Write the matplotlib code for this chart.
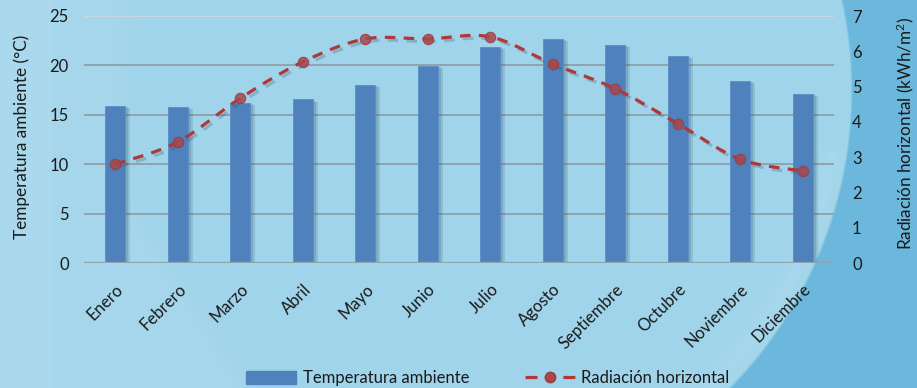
import numpy as np
import matplotlib
matplotlib.use("Agg")
import matplotlib.pyplot as plt
from matplotlib.patches import Patch
from matplotlib.lines import Line2D
import matplotlib.patheffects as pe

plt.rcParams['font.family'] = ['Lato', 'DejaVu Sans']
plt.rcParams['mathtext.fontset'] = 'custom'
plt.rcParams['mathtext.rm'] = 'Lato'
plt.rcParams['mathtext.it'] = 'Lato'

# Monthly climate data
months = ["Enero", "Febrero", "Marzo", "Abril", "Mayo", "Junio", "Julio",
          "Agosto", "Septiembre", "Octubre", "Noviembre", "Diciembre"]
temperatura = [15.9, 15.8, 16.2, 16.55, 18.05, 19.95, 21.9, 22.7, 22.1, 21.0, 18.45, 17.1]
radiacion = [2.80, 3.43, 4.67, 5.70, 6.35, 6.35, 6.41, 5.64, 4.94, 3.95, 2.94, 2.61]
temp_ticks = [0, 5, 10, 15, 20, 25]
rad_ticks = [0, 1, 2, 3, 4, 5, 6, 7]

W, H = 917, 388
fig = plt.figure(figsize=(W / 100, H / 100), dpi=100)

# Background: light blue panel, lighter wedge on the left, darker arc on the right
yy, xx = np.mgrid[0:H, 0:W].astype(float)
base = np.array([160, 212, 234], float) / 255
img = np.ones((H, W, 3)) * base
light = np.array([168, 216, 236]) / 255
edge_x = np.where(yy < 200, 140.0, 140.0 + (yy - 200) * 0.65)
wedge = np.clip((edge_x - xx) / 25, 0, 1)[..., None] * 0.7
img = img * (1 - wedge) + light * wedge
left_strip = np.clip((55 - xx) / 6, 0, 1)[..., None] * 0.5
img = img * (1 - left_strip) + np.array([176, 219, 237]) / 255 * left_strip
# darker area outside the large arc (right side only)
r = np.sqrt((xx - 427) ** 2 + (yy - 90) ** 2)
outer = (np.clip((r - 423) / 2.5, 0, 1) * (xx > 550))[..., None]
rim = (np.exp(-((r - 410) / 14) ** 2) * (xx > 600) * (yy > 150))[..., None] * 0.35
img = img * (1 - rim) + np.array([178, 222, 240]) / 255 * rim
dark = np.array([108, 184, 221]) / 255 + (0.02 * (1 - xx / W))[..., None]
img = img * (1 - outer) + dark * outer
bg = fig.add_axes([0, 0, 1, 1], zorder=-10)
bg.imshow(np.clip(img, 0, 1), aspect='auto', extent=[0, 1, 0, 1], origin='upper')
bg.axis('off')

left, right = 84 / W, 834 / W
bottom, top = 1 - 263 / H, 1 - 16 / H
ax = fig.add_axes([left, bottom, right - left, top - bottom])
ax.patch.set_alpha(0)
ax2 = ax.twinx()
ax2.patch.set_alpha(0)

x = np.arange(len(months))
bar_color = '#4f81bd'
bars = ax.bar(x, temperatura, width=0.32, color=bar_color, edgecolor='#5b8cc6',
              linewidth=0.6, zorder=3)
for b in bars:
    b.set_path_effects([pe.SimplePatchShadow(offset=(3.5, -1.5), shadow_rgbFace='#3a5a70', alpha=0.18),
                        pe.SimplePatchShadow(offset=(2, -1), shadow_rgbFace='#3a5a70', alpha=0.2),
                        pe.Normal()])

ax.set_xlim(-0.5, len(months) - 0.5)
ax.set_ylim(0, 25)
ax.set_yticks(temp_ticks)
ax2.set_ylim(0, 7)
ax2.set_yticks(rad_ticks)

# grid lines
for t in temp_ticks[1:]:
    c = '#c9d9e1' if t == 25 else '#8fa3ad'
    ax.axhline(t, color=c, lw=1.4, zorder=1)
for s in ax.spines.values():
    s.set_visible(False)
for s in ax2.spines.values():
    s.set_visible(False)
ax.axhline(0, color='#8fa3ad', lw=1.6, zorder=4)

# smoothed curve through radiation values (Catmull-Rom as cubic Bezier)
def smooth(xs, ys, n=30):
    P = np.column_stack([xs, ys]).astype(float)
    out = []
    for i in range(len(P) - 1):
        p0 = P[i - 1] if i > 0 else P[i]
        p1, p2 = P[i], P[i + 1]
        p3 = P[i + 2] if i + 2 < len(P) else P[i + 1]
        c1 = p1 + (p2 - p0) / 6
        c2 = p2 - (p3 - p1) / 6
        t = np.linspace(0, 1, n)[:, None]
        seg = ((1 - t) ** 3) * p1 + 3 * ((1 - t) ** 2) * t * c1 + 3 * (1 - t) * t ** 2 * c2 + t ** 3 * p2
        out.append(seg if i == 0 else seg[1:])
    return np.vstack(out)

curve = smooth(x, radiacion)
line_color = '#b03838'
ax2.plot(curve[:, 0], curve[:, 1], color=line_color, lw=2.3, dashes=(3.3, 2.6),
         zorder=5, path_effects=[pe.SimpleLineShadow(offset=(2, -2), shadow_color='#2f4f66', alpha=0.25),
                                 pe.Normal()])
ax2.plot(x, radiacion, linestyle='none', marker='o', ms=7.5, mfc='#a9474b', mec='#9a3c40',
         mew=0.8, alpha=0.85, zorder=6)

text_color = '#1a1a1a'
ax.tick_params(axis='y', length=0, pad=11, labelsize=12, labelcolor=text_color)
ax2.tick_params(axis='y', length=0, pad=13, labelsize=12, labelcolor=text_color)
ax.set_xticks(x)
ax.set_xticklabels(months, rotation=45, ha='right', rotation_mode='anchor',
                   fontsize=12, color=text_color)
ax.tick_params(axis='x', length=0, pad=13)

fig.text(22 / W, 1 - 136.5 / H, 'Temperatura ambiente (°C)', rotation=90,
         ha='center', va='center', fontsize=12.3, color=text_color)
fig.text(905 / W, 1 - 133.5 / H, 'Radiación horizontal (kWh/m$^{2}$)', rotation=90,
         ha='center', va='center', fontsize=12.3, color=text_color)

handles = [Patch(facecolor=bar_color, edgecolor=bar_color),
           Line2D([0], [0], color=line_color, lw=2.3, dashes=(3.75, 8.1), marker='o',
                  ms=7.5, mfc='#a9474b', mec='#9a3c40')]
fig.legend(handles, ['Temperatura ambiente', 'Radiación horizontal'], loc='center',
           bbox_to_anchor=(488 / W, 1 - 378 / H), ncol=2, frameon=False, fontsize=12,
           handlelength=3.0, handleheight=0.8, handletextpad=0.4, columnspacing=3.3,
           labelcolor=text_color)

fig.savefig('out.png', dpi=100)
